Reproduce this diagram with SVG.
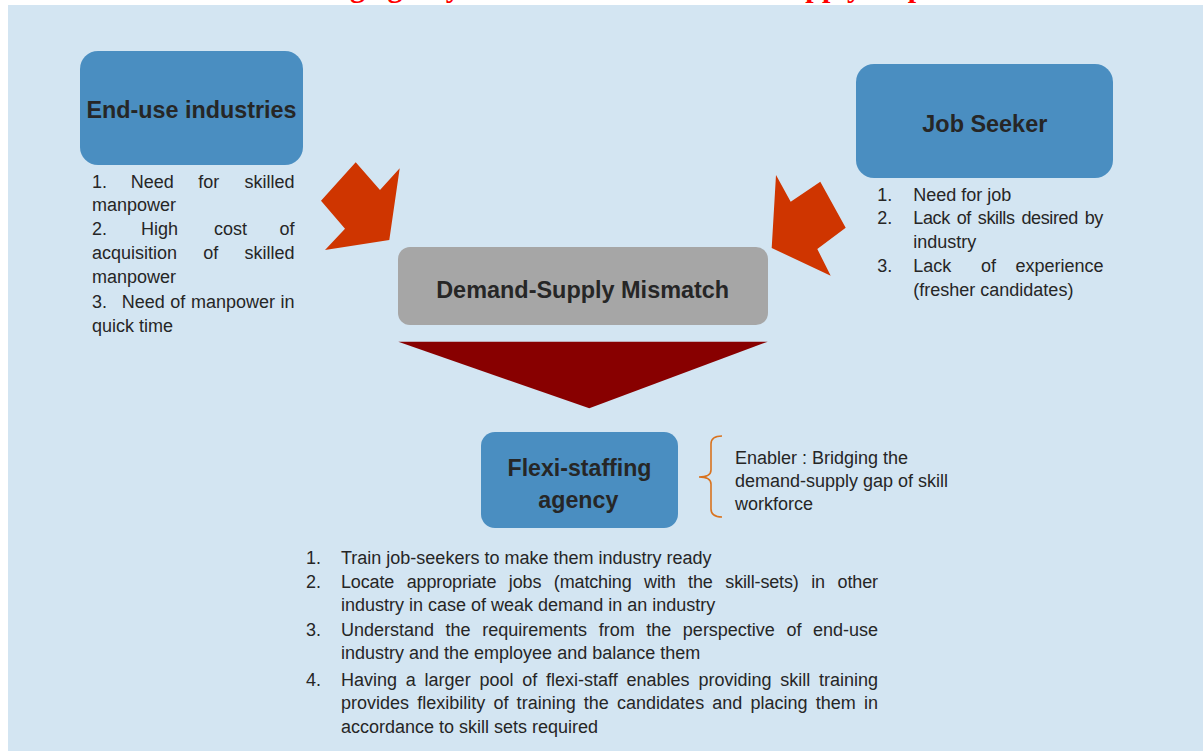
<svg xmlns="http://www.w3.org/2000/svg" width="1203" height="751" viewBox="0 0 1203 751">
<style>
.title{font-family:"Liberation Serif","Times New Roman",serif;font-weight:bold;font-size:30px;fill:#FF0000}
.box{fill:#4A8EC1}
.hd{font-family:"Liberation Sans",Arial,sans-serif;font-weight:bold;font-size:24px;fill:#262626;text-anchor:middle}
.t{font-family:"Liberation Sans",Arial,sans-serif;font-size:18px;fill:#262626}
.e{text-anchor:end}
.arr{fill:#CF3500}
</style>
<rect x="0" y="0" width="1203" height="751" fill="#FFFFFF"/>
<text class="title" x="195" y="-3">Flexi-staffing agency to address the Demand-Supply Gap</text>
<rect x="8" y="5" width="1195" height="746" fill="#D3E5F2"/>

<g id="connectors">
<polygon class="arr" points="355.7,162.3 380,190 399.7,168.3 389.3,240 325,250 345,228.7 321,200.7"/>
<polygon class="arr" points="776,175 790.7,201.7 820.3,181.7 845.7,227.7 817.3,249 830.7,275.7 771.7,248"/>
<polygon points="398.3,341.7 767.7,341.7 589.3,408.3" fill="#880000"/>
<path d="M722,436 Q711,436 711,444 L711,470 Q711,477 699,477 Q711,477 711,484 L711,509 Q711,517 722,517" fill="none" stroke="#D9731F" stroke-width="1.6"/>
</g>

<g id="end-use">
<rect class="box" x="80" y="51" width="223" height="114" rx="18"/>
<text class="hd" x="191.5" y="118.3" textLength="210" lengthAdjust="spacingAndGlyphs">End-use industries</text>
<text class="t" x="92" y="187.7">1.</text>
<text class="t" x="130.7" y="187.7">Need</text>
<text class="t" x="198.3" y="187.7">for</text>
<text class="t e" x="294.5" y="187.7">skilled</text>
<text class="t" x="92" y="210.7">manpower</text>
<text class="t" x="92" y="235">2.</text>
<text class="t" x="141" y="235">High</text>
<text class="t" x="214" y="235">cost</text>
<text class="t e" x="294.5" y="235">of</text>
<text class="t" x="92" y="259.3">acquisition</text>
<text class="t" x="203.3" y="259.3">of</text>
<text class="t e" x="294.5" y="259.3">skilled</text>
<text class="t" x="92" y="283.3">manpower</text>
<text class="t" x="92" y="308.3">3.</text>
<text class="t" x="121.7" y="308.3" word-spacing="0.6" textLength="172.8" lengthAdjust="spacing">Need of manpower in</text>
<text class="t" x="92" y="331.7">quick time</text>
</g>

<g id="job-seeker">
<rect class="box" x="856" y="64" width="257" height="114" rx="18"/>
<text class="hd" x="984.8" y="131.7" textLength="125" lengthAdjust="spacingAndGlyphs">Job Seeker</text>
<text class="t" x="877.3" y="200.7">1.</text>
<text class="t" x="913.3" y="200.7">Need for job</text>
<text class="t" x="877.3" y="224.3">2.</text>
<text class="t" x="913.3" y="224.3" word-spacing="2.2" textLength="190" lengthAdjust="spacing">Lack of skills desired by</text>
<text class="t" x="913.3" y="247.7">industry</text>
<text class="t" x="877.3" y="272.3">3.</text>
<text class="t" x="913.3" y="272.3">Lack</text>
<text class="t" x="981" y="272.3">of</text>
<text class="t e" x="1103.5" y="272.3">experience</text>
<text class="t" x="913.3" y="295.7">(fresher candidates)</text>
</g>

<g id="mismatch">
<rect x="398" y="247" width="370" height="78" rx="12" fill="#A6A6A6"/>
<text class="hd" x="582.7" y="298.3" textLength="293" lengthAdjust="spacingAndGlyphs">Demand-Supply Mismatch</text>
</g>

<g id="flexi">
<rect class="box" x="481" y="432" width="197" height="96" rx="14"/>
<text class="hd" x="579.5" y="476" textLength="144" lengthAdjust="spacingAndGlyphs">Flexi-staffing</text>
<text class="hd" x="578.3" y="507.5" textLength="80" lengthAdjust="spacingAndGlyphs">agency</text>
</g>

<g id="enabler">
<text class="t" x="735" y="464.3">Enabler : Bridging the</text>
<text class="t" x="735" y="487">demand-supply gap of skill</text>
<text class="t" x="735" y="510">workforce</text>
</g>

<g id="roles">
<text class="t" x="306" y="564.3">1.</text>
<text class="t" x="341" y="564.3">Train job-seekers to make them industry ready</text>
<text class="t" x="306" y="587.7">2.</text>
<text class="t" x="341" y="587.7" word-spacing="7.7" textLength="537" lengthAdjust="spacing">Locate appropriate jobs (matching with the skill-sets) in other</text>
<text class="t" x="341" y="611">industry in case of weak demand in an industry</text>
<text class="t" x="306" y="636">3.</text>
<text class="t" x="341" y="636" word-spacing="6.6" textLength="537" lengthAdjust="spacing">Understand the requirements from the perspective of end-use</text>
<text class="t" x="341" y="659.3">industry and the employee and balance them</text>
<text class="t" x="306" y="686">4.</text>
<text class="t" x="341" y="686" word-spacing="3.8" textLength="537" lengthAdjust="spacing">Having a larger pool of flexi-staff enables providing skill training</text>
<text class="t" x="341" y="709.3" word-spacing="3.2" textLength="537" lengthAdjust="spacing">provides flexibility of training the candidates and placing them in</text>
<text class="t" x="341" y="732.7">accordance to skill sets required</text>
</g>
</svg>
